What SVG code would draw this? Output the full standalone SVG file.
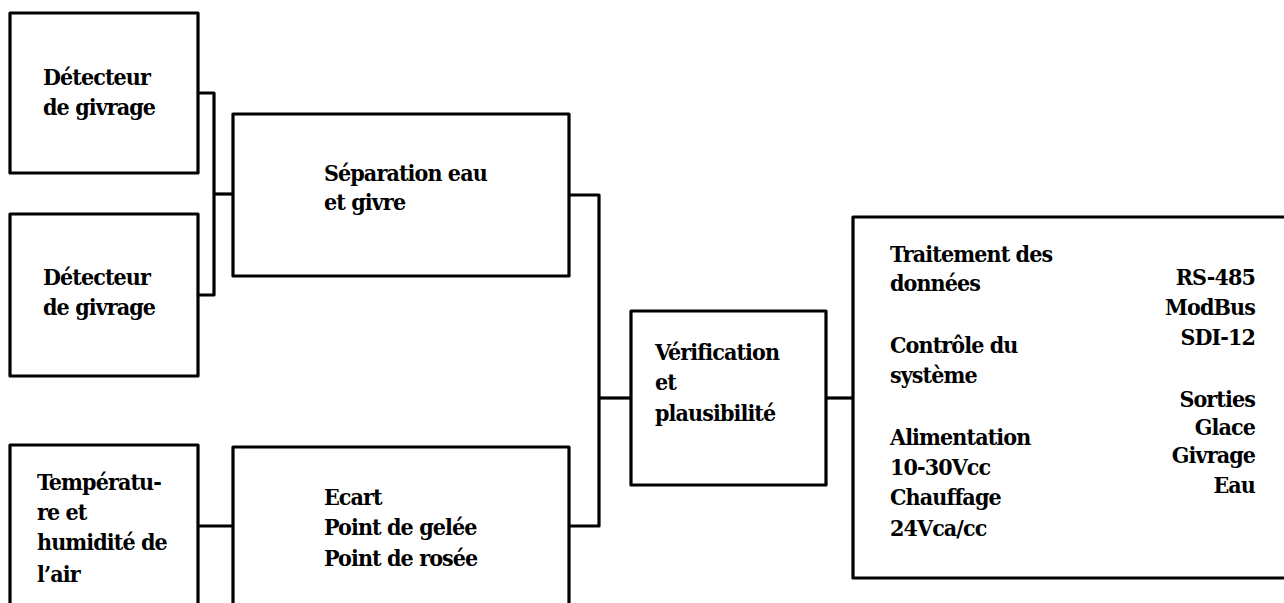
<svg xmlns="http://www.w3.org/2000/svg" width="1284" height="603" viewBox="0 0 1284 603">
<style>
.box{fill:#fff;stroke:#000;stroke-width:3.2;stroke-linejoin:round}
.wire{fill:none;stroke:#000;stroke-width:3.2;stroke-linejoin:round}
.t{font-family:'DejaVu Serif Condensed','DejaVu Serif',serif;font-stretch:condensed;font-weight:bold;font-size:23px;fill:#000;letter-spacing:-0.9px}
.r{text-anchor:end}
</style>
<rect width="1284" height="603" fill="#fff"/>
<g id="connectors">
<polyline class="wire" points="198,93 214,93 214,295 198,295"/>
<line class="wire" x1="214" y1="194" x2="233" y2="194"/>
<polyline class="wire" points="569,195 599,195 599,526 569,526"/>
<line class="wire" x1="599" y1="398" x2="631" y2="398"/>
<line class="wire" x1="198" y1="526" x2="233" y2="526"/>
<line class="wire" x1="826" y1="398" x2="853" y2="398"/>
</g>
<g class="t">
<g id="detecteur1">
<rect class="box" x="10" y="13" width="188" height="160"/>
<text x="43" y="85">Détecteur</text>
<text x="43" y="115">de givrage</text>
</g>
<g id="detecteur2">
<rect class="box" x="10" y="214" width="188" height="162"/>
<text x="43" y="285">Détecteur</text>
<text x="43" y="315">de givrage</text>
</g>
<g id="separation">
<rect class="box" x="233" y="114" width="336" height="162"/>
<text x="324" y="181">Séparation eau</text>
<text x="324" y="210">et givre</text>
</g>
<g id="temperature">
<rect class="box" x="10" y="445" width="188" height="175"/>
<text x="37" y="490">Températu-</text>
<text x="37" y="520">re et</text>
<text x="37" y="550">humidité de</text>
<text x="37" y="582">l’air</text>
</g>
<g id="ecart">
<rect class="box" x="233" y="447" width="336" height="175"/>
<text x="324" y="505">Ecart</text>
<text x="324" y="535">Point de gelée</text>
<text x="324" y="566">Point de rosée</text>
</g>
<g id="verification">
<rect class="box" x="631" y="311" width="195" height="174"/>
<text x="655" y="360">Vérification</text>
<text x="655" y="390">et</text>
<text x="655" y="421">plausibilité</text>
</g>
<g id="traitement">
<rect class="box" x="853" y="217" width="460" height="361"/>
<text x="890" y="262">Traitement des</text>
<text x="890" y="291">données</text>
<text x="890" y="353">Contrôle du</text>
<text x="890" y="383">système</text>
<text x="890" y="445">Alimentation</text>
<text x="890" y="475">10-30Vcc</text>
<text x="890" y="505">Chauffage</text>
<text x="890" y="536">24Vca/cc</text>
<text class="r" x="1255" y="285">RS-485</text>
<text class="r" x="1255" y="315">ModBus</text>
<text class="r" x="1255" y="345">SDI-12</text>
<text class="r" x="1255" y="407">Sorties</text>
<text class="r" x="1255" y="435">Glace</text>
<text class="r" x="1255" y="463">Givrage</text>
<text class="r" x="1255" y="493">Eau</text>
</g>
</g>
</svg>
